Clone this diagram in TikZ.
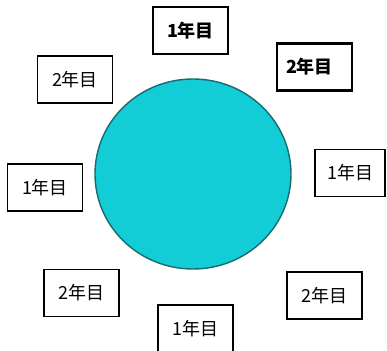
\documentclass[tikz,border=0pt]{standalone}
\usetikzlibrary{shapes.geometric}
\usepackage{fontspec}
\newfontfamily\jpfont{Noto Sans CJK JP}
\definecolor{disc}{HTML}{12CCD6}
\definecolor{discedge}{HTML}{1A6A72}
\begin{document}
\begin{tikzpicture}[x=1pt,y=-1pt,
  yearbox/.style={draw=black,line width=1.7pt,fill=white,inner sep=0pt,minimum width=75pt,minimum height=47pt,font=\jpfont\fontsize{18}{18}\selectfont},
  boldbox/.style={yearbox,line width=2.3pt,font=\jpfont\bfseries\fontsize{18}{18}\selectfont}]
\useasboundingbox (0,0) rectangle (387,350);
\fill[white] (0,0) rectangle (387,350);
\node[draw=discedge,line width=1.4pt,fill=disc,ellipse,minimum width=196pt,minimum height=190pt,inner sep=0pt] (c) at (193,174) {};
\node[boldbox] (b1) at (190.5,30.5) {1年目};
\node[boldbox,text width=57pt,align=left] (b2) at (314.5,67) {2年目};
\node[yearbox] (b3) at (75,79.5) {2年目};
\node[yearbox] (b4) at (45,187.5) {1年目};
\node[yearbox,minimum width=70pt] (b5) at (350,173) {1年目};
\node[yearbox] (b6) at (81.5,293) {2年目};
\node[yearbox] (b7) at (324.5,295.5) {2年目};
\node[yearbox] (b8) at (195.5,328.5) {1年目};
\end{tikzpicture}
\end{document}
